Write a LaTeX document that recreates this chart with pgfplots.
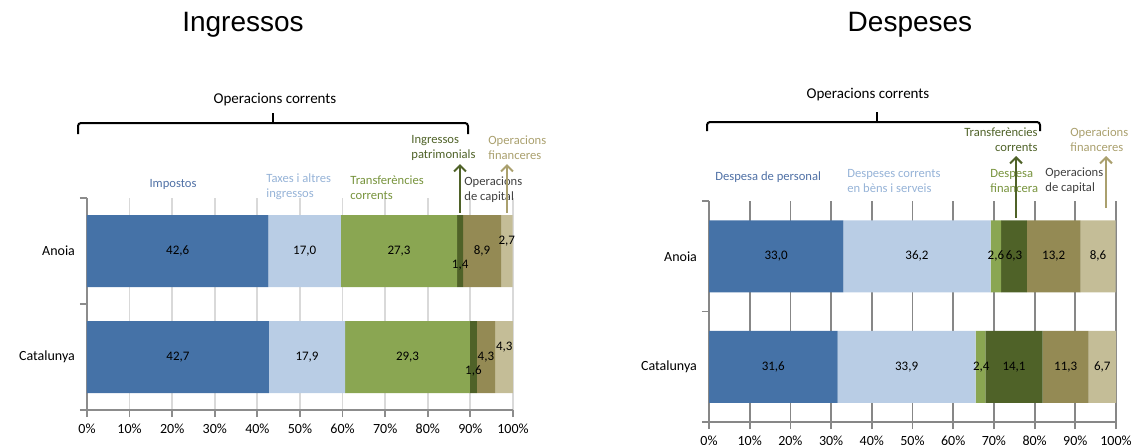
\documentclass[border=0pt]{standalone}
\usepackage{pgfplots}
\pgfplotsset{compat=1.18}
\usepackage{fontspec}
\setmainfont{Carlito}
\newfontfamily\titlefont{Liberation Sans}
\usetikzlibrary{arrows.meta}

\definecolor{cBlue}{RGB}{69,114,167}
\definecolor{cLBlue}{RGB}{185,205,229}
\definecolor{cGreen}{RGB}{138,166,82}
\definecolor{cDGreen}{RGB}{79,98,40}
\definecolor{cOlive}{RGB}{148,138,84}
\definecolor{cTan}{RGB}{196,189,151}
\definecolor{tBlue}{RGB}{79,112,165}
\definecolor{tLBlue}{RGB}{150,179,215}
\definecolor{tGreen}{RGB}{119,147,60}
\definecolor{tGray}{RGB}{64,64,64}
\definecolor{tTan}{RGB}{170,160,110}

\tikzset{ann/.style={font=\fontsize{6.3}{7.6}\selectfont, inner sep=0pt}}

\pgfplotsset{
  frame/.style={
    scale only axis, anchor=south west,
    xmin=0, xmax=100, ymin=0, ymax=2,
  },
  chart/.style={
    frame,
    axis x line*=bottom, axis y line*=left,
    xtick={0,10,...,100},
    xticklabel={\pgfmathprintnumber{\tick}\%},
    ytick={0,1,2}, yticklabels={},
    extra y ticks={0.5,1.5},
    extra y tick labels={Catalunya,Anoia},
    extra y tick style={major tick length=0pt},
    yticklabel style={xshift=-2.5pt},
    tick align=outside, major tick length=3.5pt,
    xmajorgrids,
    /pgf/number format/assume math mode=true,
    ticklabel style={font=\fontsize{7}{8}\selectfont, text=black},
    bar width=36pt,
    xbar stacked,
  },
  labels/.style={
    frame, hide axis, clip=false,
  },
  vals/.style={
    only marks, mark=none, nodes near coords,
    point meta=explicit symbolic,
    nodes near coords align=center,
    every node near coord/.append style={font=\fontsize{6.5}{7}\selectfont, text=black, inner sep=0pt},
  },
}

\begin{document}
\begin{tikzpicture}[x=0.5pt, y=-0.5pt]
\useasboundingbox (0,0) rectangle (1132,445);

% ---------------- Ingressos
\begin{axis}[chart, at={(43.5pt,-205pt)}, width=213pt, height=106pt,
  grid style={draw={rgb,255:red,217;green,217;blue,217}, line width=0.9pt},
  axis line style={draw={rgb,255:red,140;green,140;blue,140}, line width=0.9pt},
  tick style={draw={rgb,255:red,140;green,140;blue,140}, line width=0.9pt}]
  \addplot[fill=cBlue, draw=none]   coordinates {(42.6,1.5) (42.7,0.5)};
  \addplot[fill=cLBlue, draw=none]  coordinates {(17.0,1.5) (17.9,0.5)};
  \addplot[fill=cGreen, draw=none]  coordinates {(27.3,1.5) (29.3,0.5)};
  \addplot[fill=cDGreen, draw=none] coordinates {(1.4,1.5) (1.6,0.5)};
  \addplot[fill=cOlive, draw=none]  coordinates {(8.9,1.5) (4.3,0.5)};
  \addplot[fill=cTan, draw=none]    coordinates {(2.7,1.5) (4.3,0.5)};
\end{axis}
\begin{axis}[labels, at={(43.5pt,-205pt)}, width=213pt, height=106pt]
  \addplot[vals] table[meta=l] {
x y l
21.3 1.5 42,6
51.1 1.5 17,0
73.25 1.5 27,3
87.6 1.37 1,4
92.75 1.5 8,9
98.55 1.595 2,7
21.35 0.5 42,7
51.65 0.5 17,9
75.25 0.5 29,3
90.7 0.37 1,6
93.65 0.5 4,3
97.95 0.595 4,3
  };
\end{axis}

% ---------------- Despeses
\begin{axis}[chart, at={(354.5pt,-211pt)}, width=203.5pt, height=110.5pt,
  grid style={draw={rgb,255:red,135;green,135;blue,135}, line width=0.9pt},
  axis line style={draw={rgb,255:red,135;green,135;blue,135}, line width=0.9pt},
  tick style={draw={rgb,255:red,135;green,135;blue,135}, line width=0.9pt}]
  \addplot[fill=cBlue, draw=none]   coordinates {(33.0,1.5) (31.6,0.5)};
  \addplot[fill=cLBlue, draw=none]  coordinates {(36.2,1.5) (33.9,0.5)};
  \addplot[fill=cGreen, draw=none]  coordinates {(2.6,1.5) (2.4,0.5)};
  \addplot[fill=cDGreen, draw=none] coordinates {(6.3,1.5) (14.1,0.5)};
  \addplot[fill=cOlive, draw=none]  coordinates {(13.2,1.5) (11.3,0.5)};
  \addplot[fill=cTan, draw=none]    coordinates {(8.6,1.5) (6.7,0.5)};
\end{axis}
\begin{axis}[labels, at={(354.5pt,-211pt)}, width=203.5pt, height=110.5pt]
  \addplot[vals] table[meta=l] {
x y l
16.5 1.5 33,0
51.1 1.5 36,2
70.5 1.5 2,6
74.95 1.5 6,3
84.7 1.5 13,2
95.6 1.5 8,6
15.8 0.5 31,6
48.55 0.5 33,9
66.9 0.5 2,4
74.95 0.5 14,1
87.65 0.5 11,3
96.65 0.5 6,7
  };
\end{axis}

% ---------------- titles
\node[font=\titlefont\fontsize{14}{16}\selectfont] at (243,25) {Ingressos};
\node[font=\titlefont\fontsize{14}{16}\selectfont] at (910,25) {Despeses};

% ---------------- left annotations
\node[font=\fontsize{7.5}{9}\selectfont] at (275,100) {Operacions corrents};
\draw[line width=1pt, rounded corners=1.5pt] (78,134) |- (273,123) -| (468,134);
\draw[line width=1pt] (273,123) -- (273,113);
\node[ann, text=tBlue] at (173,184) {Impostos};
\node[ann, text=tLBlue, anchor=west, align=left] at (266,187) {Taxes i altres\\ingressos};
\node[ann, text=tGreen, anchor=west, align=left] at (350,188) {Transferències\\corrents};
\node[ann, text=cDGreen, anchor=west, align=left] at (411,148) {Ingressos\\patrimonials};
\node[ann, text=tGray, anchor=west, align=left] at (464,190) {Operacions\\de capital};
\node[ann, text=tTan, anchor=west, align=left] at (488,148) {Operacions\\financeres};
\draw[cDGreen, line width=1pt, -{Straight Barb[length=3pt,width=6pt]}] (460,213) -- (460,164);
\draw[tTan, line width=1pt, -{Straight Barb[length=3pt,width=6pt]}] (507,213) -- (507,164);

% ---------------- right annotations
\node[font=\fontsize{7.5}{9}\selectfont] at (868,95) {Operacions corrents};
\draw[line width=1pt, rounded corners=1.5pt] (707,131) |- (877,122) -| (1040,131);
\draw[line width=1pt] (877,122) -- (877,112);
\node[ann, text=tBlue, anchor=west] at (715,177) {Despesa de personal};
\node[ann, text=tLBlue, anchor=west, align=left] at (847,181) {Despeses corrents\\en bèns i serveis};
\node[ann, text=tGreen, anchor=west, align=left] at (990,181) {Despesa\\financera};
\node[ann, text=tGray, anchor=west, align=left] at (1045,181) {Operacions\\de capital};
\node[ann, text=cDGreen, anchor=east, align=right] at (1038,140) {Transferències\\corrents};
\node[ann, text=tTan, anchor=west, align=left] at (1070,140) {Operacions\\financeres};
\draw[cDGreen, line width=1pt, -{Straight Barb[length=3pt,width=6pt]}] (1016,218) -- (1016,156);
\draw[tTan, line width=1pt, -{Straight Barb[length=3pt,width=6pt]}] (1106,208) -- (1106,156);
\end{tikzpicture}
\end{document}
